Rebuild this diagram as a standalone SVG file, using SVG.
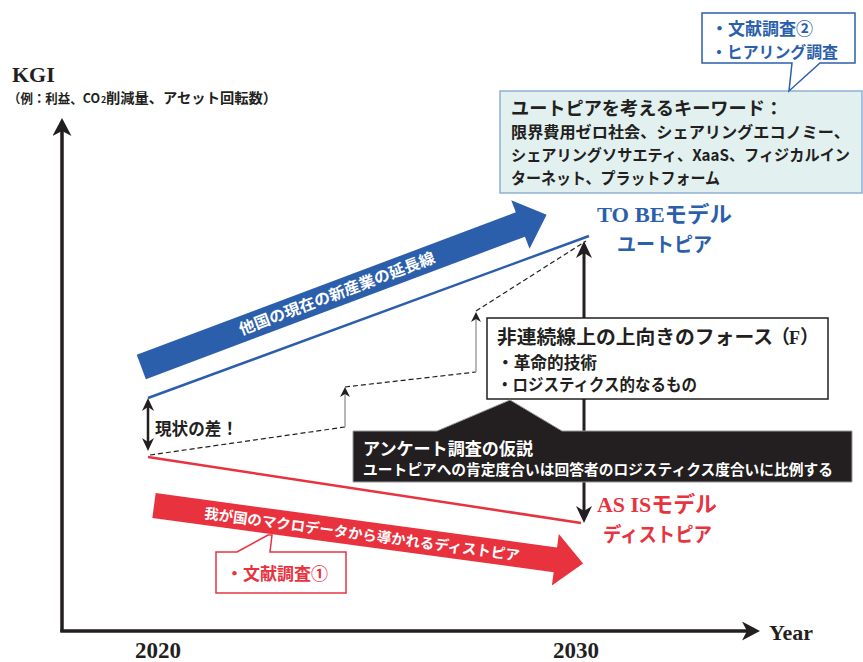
<svg xmlns="http://www.w3.org/2000/svg" width="863" height="662" viewBox="0 0 863 662">
<style>
.jp{font-family:"Noto Sans CJK JP",sans-serif;font-weight:bold;}
.sf{font-family:"Liberation Serif","Noto Sans CJK JP",serif;font-weight:bold;}
.dk{fill:#231f20;}
.bl{fill:#2b5fac;}
.rd{fill:#e8333f;}
.wh{fill:#ffffff;}
.dash{fill:none;stroke:#231f20;stroke-width:1.2;stroke-dasharray:5 3;}
.gray{fill:none;stroke:#a0a0a0;stroke-width:1.5;}
</style>
<defs>
<marker id="axh" viewBox="0 0 18 19" refX="5" refY="9.5" markerWidth="18" markerHeight="19" markerUnits="userSpaceOnUse" orient="auto-start-reverse"><path d="M0,0 L18,9.5 L0,19 L5,9.5 Z" fill="#231f20"/></marker>
<marker id="vh" viewBox="0 0 17 16" refX="5" refY="8" markerWidth="17" markerHeight="16" markerUnits="userSpaceOnUse" orient="auto-start-reverse"><path d="M0,0 L17,8 L0,16 L5,8 Z" fill="#231f20"/></marker>
<marker id="sh" viewBox="0 0 13 12" refX="4" refY="6" markerWidth="13" markerHeight="12" markerUnits="userSpaceOnUse" orient="auto-start-reverse"><path d="M0,0 L13,6 L0,12 L4,6 Z" fill="#231f20"/></marker>
<marker id="gh" viewBox="0 0 10 10" refX="3" refY="5" markerWidth="10" markerHeight="10" markerUnits="userSpaceOnUse" orient="auto"><path d="M0,0 L10,5 L0,10 L3,5 Z" fill="#231f20"/></marker>
</defs>
<rect width="863" height="662" fill="#ffffff"/>

<g id="connectors">
  <line x1="62" y1="632" x2="62" y2="131" stroke="#231f20" stroke-width="3.5" marker-end="url(#axh)"/>
  <line x1="60.3" y1="631" x2="747" y2="631" stroke="#231f20" stroke-width="3.5" marker-end="url(#axh)"/>
  <line x1="148" y1="398" x2="589" y2="236" stroke="#2b5fac" stroke-width="2.5"/>
  <line x1="148" y1="457" x2="581" y2="523" stroke="#e8333f" stroke-width="2.5"/>
  <line x1="584" y1="253" x2="584" y2="511" stroke="#231f20" stroke-width="3" marker-start="url(#vh)" marker-end="url(#vh)"/>
  <line x1="148" y1="407" x2="148" y2="442" stroke="#231f20" stroke-width="2.5" marker-start="url(#sh)" marker-end="url(#sh)"/>
  <line class="dash" x1="150" y1="455" x2="345" y2="427"/>
  <line class="gray" x1="345" y1="427" x2="345" y2="394" marker-end="url(#gh)"/>
  <line class="dash" x1="345" y1="387" x2="476" y2="372"/>
  <line class="gray" x1="476" y1="372" x2="476" y2="319" marker-end="url(#gh)"/>
  <line class="dash" x1="476" y1="311" x2="586" y2="241"/>
</g>

<g id="axis-labels">
  <text class="sf dk" x="12" y="82" font-size="22">KGI</text>
  <text class="jp dk" x="8" y="103" font-size="12.8" textLength="92" lengthAdjust="spacingAndGlyphs">（例：利益、CO</text>
  <text class="jp dk" x="101" y="103" font-size="9">2</text>
  <text class="jp dk" x="106" y="103" font-size="14.2" textLength="171" lengthAdjust="spacingAndGlyphs">削減量、アセット回転数）</text>
  <text class="sf dk" x="135" y="658" font-size="23">2020</text>
  <text class="sf dk" x="553" y="658" font-size="23">2030</text>
  <text class="sf dk" x="769" y="640" font-size="22">Year</text>
</g>

<g id="blue-arrow" transform="translate(141.3,367) rotate(-20.6)">
  <path d="M0,-13 L405,-13 L405,-26 L433,0 L405,26 L405,13 L0,13 Z" fill="#2b5fac"/>
  <text class="jp wh" x="209" y="5.5" font-size="15.5" text-anchor="middle" textLength="208" lengthAdjust="spacingAndGlyphs">他国の現在の新産業の延長線</text>
</g>

<g id="red-arrow" transform="translate(154,505.5) rotate(7.7)">
  <path d="M0,-12.5 L405,-12.5 L405,-26 L433,0 L405,26 L405,12.5 L0,12.5 Z" fill="#e8333f"/>
  <text class="jp wh" x="210" y="6" font-size="14.5" text-anchor="middle" textLength="318" lengthAdjust="spacingAndGlyphs">我が国のマクロデータから導かれるディストピア</text>
</g>

<g id="keyword-box">
  <rect x="500" y="91" width="362" height="102" fill="#e2f0ef" stroke="#8eb0d4" stroke-width="1.5"/>
  <text class="jp dk" x="511" y="115" font-size="18.5" textLength="272" lengthAdjust="spacingAndGlyphs">ユートピアを考えるキーワード：</text>
  <text class="jp dk" x="511" y="138" font-size="16" textLength="339" lengthAdjust="spacingAndGlyphs">限界費用ゼロ社会、シェアリングエコノミー、</text>
  <text class="jp dk" x="511" y="161" font-size="15.5" textLength="339" lengthAdjust="spacingAndGlyphs">シェアリングソサエティ、XaaS、フィジカルイン</text>
  <text class="jp dk" x="511" y="184" font-size="16" textLength="209" lengthAdjust="spacingAndGlyphs">ターネット、プラットフォーム</text>
</g>

<g id="callout-research2">
  <path d="M702,13 H855 V63 H820 L789,91 L792,63 H702 Z" fill="#ffffff" stroke="#2b5fac" stroke-width="1.5"/>
  <text class="jp bl" x="711" y="35" font-size="17" textLength="102" lengthAdjust="spacingAndGlyphs">・文献調査②</text>
  <text class="jp bl" x="711" y="58" font-size="16" textLength="127" lengthAdjust="spacingAndGlyphs">・ヒアリング調査</text>
</g>

<g id="tobe-label">
  <text class="sf bl" x="597" y="222" font-size="22" textLength="135" lengthAdjust="spacingAndGlyphs">TO BEモデル</text>
  <text class="jp bl" x="617" y="252" font-size="20" textLength="95" lengthAdjust="spacingAndGlyphs">ユートピア</text>
</g>

<g id="asis-label">
  <text class="sf rd" x="597" y="512" font-size="22" textLength="120" lengthAdjust="spacingAndGlyphs">AS ISモデル</text>
  <text class="jp rd" x="603" y="542" font-size="20" textLength="109" lengthAdjust="spacingAndGlyphs">ディストピア</text>
</g>

<g id="gap-label">
  <text class="jp dk" x="155" y="435" font-size="17" textLength="83" lengthAdjust="spacingAndGlyphs">現状の差！</text>
</g>

<g id="force-box">
  <rect x="487" y="318" width="341" height="81" fill="#ffffff" stroke="#231f20" stroke-width="1.5"/>
  <text class="jp dk" x="497" y="344" font-size="19" textLength="276" lengthAdjust="spacingAndGlyphs">非連続線上の上向きのフォース</text>
  <text class="jp dk" x="771" y="344" font-size="19">（</text>
  <text class="sf dk" x="789" y="344" font-size="18">F</text>
  <text class="jp dk" x="800" y="344" font-size="19">）</text>
  <text class="jp dk" x="497" y="369" font-size="16.5" textLength="100" lengthAdjust="spacingAndGlyphs">・革命的技術</text>
  <text class="jp dk" x="497" y="391" font-size="16.5" textLength="200" lengthAdjust="spacingAndGlyphs">・ロジスティクス的なるもの</text>
</g>

<g id="hypothesis-box">
  <path d="M353,431 H437 L510,400 L562,431 H852 V482 H353 Z" fill="#231f20" stroke="#9a9a9a" stroke-width="1"/>
  <text class="jp wh" x="363" y="455" font-size="17.5" textLength="170" lengthAdjust="spacingAndGlyphs">アンケート調査の仮説</text>
  <text class="jp wh" x="363" y="475" font-size="14.5" textLength="470" lengthAdjust="spacingAndGlyphs">ユートピアへの肯定度合いは回答者のロジスティクス度合いに比例する</text>
</g>

<g id="callout-research1">
  <path d="M216,552 H237 L268,535 H272 L270,552 H346 V593 H216 Z" fill="#ffffff" stroke="#e8333f" stroke-width="1.5"/>
  <text class="jp rd" x="226" y="580" font-size="17" textLength="102" lengthAdjust="spacingAndGlyphs">・文献調査①</text>
</g>
</svg>
